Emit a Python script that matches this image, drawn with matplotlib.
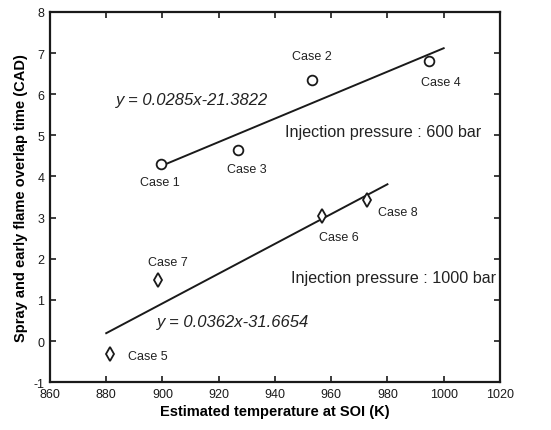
import numpy as np
import matplotlib
matplotlib.use("Agg")
import matplotlib.pyplot as plt

plt.rcParams['font.family'] = ['Liberation Sans', 'DejaVu Sans']
plt.rcParams['axes.unicode_minus'] = False

# 600 bar cases (circles)
temp_600 = [899.4, 953, 927, 994.8]
overlap_600 = [4.30, 6.35, 4.64, 6.81]
names_600 = ['Case 1', 'Case 2', 'Case 3', 'Case 4']

# 1000 bar cases (diamonds)
temp_1000 = [881.3, 956.7, 898.3, 972.8]
overlap_1000 = [-0.32, 3.04, 1.48, 3.42]
names_1000 = ['Case 5', 'Case 6', 'Case 7', 'Case 8']

# linear fits
fit_600 = (0.0285, -21.3822)
fit_1000 = (0.0362, -31.6654)
fit_range_600 = [899.4, 1000]
fit_range_1000 = [880, 980]

fig = plt.figure(figsize=(5.51, 4.31), dpi=100)
ax = fig.add_axes([0.0907, 0.111, 0.8166, 0.859])

x1 = np.array(fit_range_600)
ax.plot(x1, fit_600[0] * x1 + fit_600[1], color='#1a1a1a', lw=1.4)
x2 = np.array(fit_range_1000)
ax.plot(x2, fit_1000[0] * x2 + fit_1000[1], color='#1a1a1a', lw=1.4)

ax.plot(temp_600, overlap_600, 'o', ms=7, mfc='white', mec='#1a1a1a', mew=1.3)
ax.plot(temp_1000, overlap_1000, 'd', ms=7.5, mfc='white', mec='#1a1a1a', mew=1.3)

# case labels
label_pos = {
    'Case 1': (899, 3.86, 'center'),
    'Case 2': (953, 6.93, 'center'),
    'Case 3': (930, 4.18, 'center'),
    'Case 4': (999, 6.30, 'center'),
    'Case 5': (887.7, -0.37, 'left'),
    'Case 6': (962.8, 2.52, 'center'),
    'Case 7': (901.9, 1.92, 'center'),
    'Case 8': (983.8, 3.13, 'center'),
}
for name, (lx, ly, ha) in label_pos.items():
    ax.text(lx, ly, name, fontsize=9, ha=ha, va='center', color='#222222')

ax.text(910.7, 5.88, 'y = 0.0285x-21.3822', fontsize=12, style='italic',
        ha='center', va='center', color='#222222')
ax.text(898, 0.48, 'y = 0.0362x-31.6654', fontsize=12, style='italic',
        ha='left', va='center', color='#222222')
ax.text(943.4, 5.1, 'Injection pressure : 600 bar', fontsize=11.6,
        ha='left', va='center', color='#222222')
ax.text(945.8, 1.55, 'Injection pressure : 1000 bar', fontsize=11.6,
        ha='left', va='center', color='#222222')

ax.set_xlim(860, 1020)
ax.set_ylim(-1, 8)
ax.set_xticks(np.arange(860, 1021, 20))
ax.set_yticks(np.arange(-1, 9, 1))
ax.tick_params(direction='in', top=True, right=True, length=4, width=1.2,
               labelsize=9, colors='#1a1a1a', pad=4)
for s in ax.spines.values():
    s.set_linewidth(1.6)
    s.set_color('#1a1a1a')

ax.set_xlabel('Estimated temperature at SOI (K)', fontsize=10.5, fontweight='bold', labelpad=3)
ax.set_ylabel('Spray and early flame overlap time (CAD)', fontsize=10.5, fontweight='bold', labelpad=4)

fig.savefig('out.png', dpi=100)
